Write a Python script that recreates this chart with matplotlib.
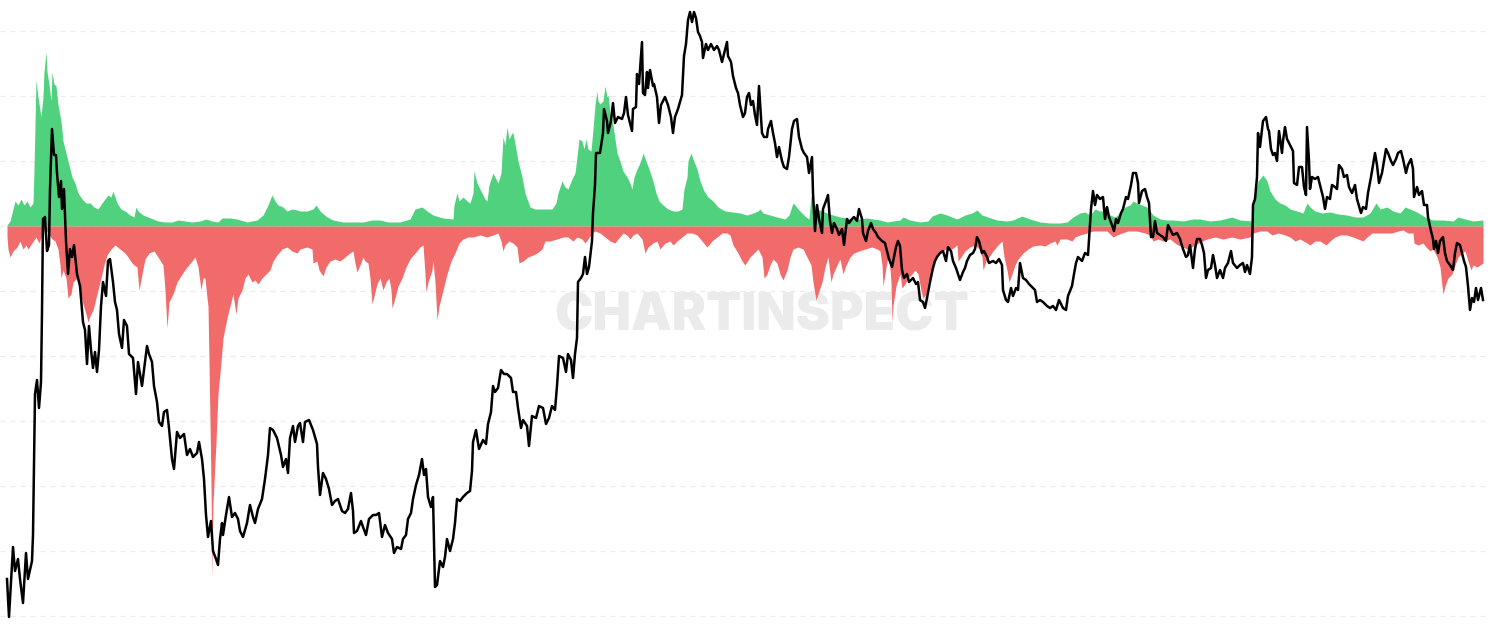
import numpy as np
import matplotlib.pyplot as plt

# inflow (green, above zero) - day index / value
inflow_day = [7, 10, 13, 15, 18, 21, 24, 27, 30, 33, 34, 36, 38, 41, 43, 44, 46, 47, 49, 51,
              52, 54, 56, 58, 61, 63, 66, 69, 72, 75, 78, 82, 86, 90, 94, 98, 102, 105, 108, 111,
              113, 115, 117, 121, 125, 130, 134, 136, 138, 143, 148, 153, 158, 165, 172, 178, 185, 192, 200, 206,
              212, 218, 222, 230, 237, 247, 257, 263, 268, 272, 275, 278, 283, 287, 292, 297, 300, 307, 313, 316,
              320, 327, 333, 343, 353, 363, 372, 380, 388, 400, 410, 415, 422, 427, 433, 443, 453, 454, 457, 459,
              463, 467, 470, 473, 474, 477, 482, 485, 487, 489, 493, 495, 498, 501, 503, 505, 507, 509, 512, 513,
              516, 518, 522, 525, 530, 535, 540, 547, 552, 556, 558, 562, 565, 568, 572, 575, 577, 579, 582, 584,
              586, 588, 591, 593, 595, 597, 598, 600, 603, 605, 607, 608, 610, 613, 615, 617, 620, 623, 627, 630,
              632, 634, 637, 639, 642, 643, 646, 649, 653, 656, 659, 663, 668, 673, 678, 682, 684, 687, 688, 691,
              693, 697, 700, 704, 708, 713, 718, 725, 733, 740, 747, 753, 758, 760, 763, 770, 777, 785, 789, 793,
              795, 798, 802, 806, 809, 811, 813, 817, 822, 827, 833, 840, 847, 853, 860, 867, 873, 880, 887, 893,
              900, 903, 910, 920, 928, 932, 940, 947, 957, 965, 972, 977, 982, 988, 997, 1007, 1013, 1022, 1030, 1040,
              1050, 1060, 1067, 1073, 1080, 1085, 1090, 1095, 1100, 1105, 1110, 1115, 1120, 1125, 1130, 1133, 1137, 1142, 1147, 1150,
              1153, 1160, 1167, 1173, 1183, 1193, 1200, 1210, 1220, 1232, 1240, 1252, 1254, 1258, 1263, 1267, 1270, 1275, 1280, 1285,
              1290, 1297, 1303, 1307, 1310, 1315, 1322, 1330, 1338, 1347, 1355, 1363, 1370, 1376, 1380, 1387, 1393, 1400, 1405, 1410,
              1417, 1425, 1433, 1443, 1453, 1458, 1465, 1473, 1483]
inflow = [1, 5, 17, 25, 21, 27, 21, 25, 19, 23, 57, 146, 129, 109, 129, 154, 174, 154, 142, 125,
          154, 142, 140, 121, 105, 85, 73, 61, 49, 43, 33, 27, 23, 23, 19, 17, 23, 27, 31, 29,
          35, 29, 23, 17, 15, 11, 9, 19, 15, 11, 9, 7, 5, 4, 4, 6, 5, 4, 5, 7,
          5, 4, 8, 8, 7, 4, 6, 11, 21, 31, 25, 21, 19, 15, 17, 16, 15, 15, 17, 21,
          15, 9, 6, 4, 4, 4, 6, 6, 4, 4, 7, 17, 19, 15, 11, 8, 7, 21, 33, 25,
          29, 25, 23, 33, 55, 43, 33, 27, 25, 41, 53, 49, 43, 53, 89, 81, 99, 87, 93, 93,
          77, 65, 49, 33, 19, 17, 17, 17, 17, 23, 33, 45, 39, 37, 47, 53, 69, 87, 85, 77,
          87, 77, 75, 97, 121, 135, 125, 122, 125, 140, 129, 131, 113, 101, 87, 73, 65, 55, 49, 43,
          37, 49, 57, 61, 69, 73, 65, 57, 45, 33, 25, 21, 17, 15, 15, 17, 37, 49, 65, 73,
          67, 57, 45, 35, 29, 25, 19, 15, 14, 13, 11, 13, 15, 17, 13, 11, 9, 7, 11, 23,
          21, 17, 13, 9, 7, 31, 23, 17, 15, 13, 11, 9, 8, 7, 7, 8, 7, 6, 4, 5,
          6, 9, 6, 4, 5, 10, 13, 11, 7, 11, 13, 16, 11, 9, 6, 5, 6, 10, 7, 4,
          3, 3, 4, 9, 13, 14, 11, 17, 15, 15, 11, 9, 13, 19, 21, 25, 23, 21, 19, 15,
          11, 7, 6, 6, 5, 7, 7, 5, 6, 9, 6, 5, 25, 45, 51, 45, 35, 27, 23, 21,
          17, 15, 13, 23, 19, 15, 13, 14, 12, 11, 9, 9, 13, 23, 17, 19, 15, 13, 19, 17,
          14, 9, 6, 6, 5, 9, 7, 5, 6]

# outflow (red, below zero)
outflow_day = [7, 8, 10, 13, 17, 20, 23, 26, 28, 32, 36, 39, 42, 45, 48, 52, 55, 58, 60, 61,
               63, 66, 68, 71, 73, 77, 80, 83, 86, 88, 90, 93, 96, 100, 104, 107, 111, 115, 120, 125,
               128, 132, 134, 137, 139, 142, 145, 149, 154, 158, 163, 165, 167, 169, 173, 177, 182, 187, 192, 195,
               198, 201, 203, 205, 207, 208, 209, 211, 212, 213, 216, 218, 221, 223, 227, 230, 233, 236, 238, 242,
               245, 248, 252, 255, 258, 262, 266, 270, 273, 277, 282, 287, 292, 297, 300, 307, 312, 313, 317, 319,
               323, 326, 330, 335, 340, 345, 350, 353, 355, 357, 360, 363, 365, 368, 370, 372, 374, 377, 380, 383,
               386, 389, 391, 392, 395, 398, 402, 406, 410, 415, 420, 423, 425, 426, 428, 432, 433, 435, 437, 439,
               443, 447, 451, 455, 459, 463, 468, 473, 480, 487, 493, 498, 501, 503, 505, 509, 513, 517, 519, 523,
               528, 533, 537, 542, 545, 550, 557, 563, 568, 573, 577, 582, 585, 588, 592, 595, 600, 605, 610, 615,
               618, 623, 627, 630, 633, 637, 642, 645, 648, 653, 657, 660, 665, 670, 673, 677, 682, 687, 692, 697,
               702, 707, 712, 717, 722, 727, 730, 733, 738, 742, 745, 750, 754, 758, 762, 764, 767, 770, 773, 777,
               780, 783, 787, 790, 793, 798, 803, 807, 811, 813, 816, 818, 822, 825, 828, 831, 833, 837, 840, 843,
               846, 850, 854, 859, 865, 872, 877, 880, 882, 883, 885, 887, 889, 891, 892, 893, 896, 900, 902, 905,
               908, 912, 915, 918, 921, 923, 926, 928, 932, 935, 938, 943, 948, 952, 957, 958, 961, 965, 970, 975,
               979, 982, 983, 986, 989, 993, 998, 1002, 1004, 1007, 1009, 1012, 1015, 1018, 1023, 1028, 1033, 1040, 1045, 1050,
               1055, 1057, 1060, 1067, 1072, 1075, 1080, 1087, 1093, 1100, 1107, 1113, 1117, 1122, 1128, 1137, 1145, 1150, 1153, 1158,
               1163, 1170, 1175, 1178, 1183, 1187, 1191, 1195, 1200, 1207, 1215, 1223, 1232, 1240, 1250, 1253, 1260, 1267, 1272, 1278,
               1285, 1290, 1295, 1300, 1307, 1310, 1315, 1320, 1326, 1330, 1335, 1340, 1347, 1353, 1358, 1363, 1367, 1372, 1378, 1385,
               1392, 1398, 1403, 1408, 1413, 1414, 1418, 1423, 1426, 1430, 1433, 1437, 1440, 1442, 1443, 1445, 1448, 1452, 1455, 1458,
               1462, 1465, 1468, 1471, 1473, 1477, 1480, 1483]
outflow = [-11, -23, -31, -25, -21, -15, -23, -19, -23, -17, -11, -17, -9, -3, -7, -13, -15, -23, -39, -52,
           -44, -52, -72, -68, -56, -52, -64, -78, -88, -96, -90, -84, -72, -56, -39, -29, -23, -19, -23, -27,
           -31, -37, -39, -41, -64, -48, -33, -27, -25, -31, -39, -64, -102, -76, -68, -56, -48, -41, -35, -31,
           -41, -64, -52, -52, -72, -80, -136, -257, -352, -277, -216, -168, -136, -112, -92, -80, -68, -88, -72, -64,
           -52, -48, -56, -54, -58, -52, -48, -44, -35, -29, -23, -21, -25, -27, -23, -21, -23, -37, -35, -44,
           -50, -41, -35, -33, -35, -31, -27, -25, -37, -46, -39, -31, -35, -37, -52, -78, -70, -58, -52, -64,
           -56, -52, -64, -82, -72, -60, -52, -41, -33, -27, -21, -19, -48, -66, -56, -44, -35, -56, -94, -80,
           -64, -48, -35, -27, -17, -13, -11, -11, -9, -11, -9, -7, -15, -25, -19, -15, -17, -21, -37, -35,
           -31, -29, -27, -23, -15, -15, -13, -11, -11, -15, -11, -13, -17, -13, -7, -5, -7, -11, -15, -17,
           -13, -7, -9, -13, -9, -7, -13, -27, -21, -17, -15, -23, -17, -15, -19, -15, -11, -7, -7, -9,
           -15, -21, -15, -11, -7, -7, -9, -19, -27, -35, -39, -31, -27, -23, -31, -52, -48, -39, -33, -37,
           -48, -54, -44, -31, -23, -21, -23, -31, -39, -56, -74, -68, -56, -41, -31, -56, -48, -39, -33, -48,
           -39, -31, -27, -25, -23, -21, -23, -25, -39, -60, -48, -35, -31, -56, -96, -80, -60, -48, -62, -58,
           -52, -48, -44, -48, -64, -72, -68, -56, -44, -35, -29, -25, -21, -23, -19, -35, -31, -25, -21, -19,
           -23, -31, -44, -35, -31, -25, -19, -15, -31, -44, -56, -48, -39, -33, -27, -23, -20, -19, -20, -17,
           -15, -19, -13, -13, -15, -11, -9, -7, -5, -5, -5, -11, -9, -7, -5, -5, -7, -9, -15, -13,
           -15, -13, -17, -19, -21, -23, -21, -19, -16, -13, -11, -13, -11, -13, -11, -7, -5, -5, -9, -7,
           -9, -11, -15, -13, -17, -19, -15, -15, -19, -15, -11, -9, -9, -11, -13, -15, -11, -7, -7, -7,
           -7, -5, -4, -7, -7, -17, -19, -17, -21, -25, -23, -31, -41, -60, -68, -60, -52, -48, -39, -31,
           -27, -25, -35, -44, -39, -41, -39, -37]

# price index
price_day = [7, 9, 13, 15, 18, 20, 23, 26, 28, 32, 33, 35, 37, 39, 41, 42, 43, 45, 47, 49,
             50, 52, 54, 56, 57, 59, 61, 62, 64, 66, 68, 70, 72, 74, 77, 80, 83, 85, 87, 89,
             91, 93, 95, 97, 99, 101, 103, 106, 108, 110, 113, 115, 117, 119, 122, 124, 127, 129, 133, 136,
             138, 142, 144, 147, 149, 152, 154, 157, 159, 162, 164, 167, 169, 172, 174, 177, 180, 184, 187, 190,
             193, 197, 199, 202, 204, 206, 208, 211, 213, 216, 218, 220, 222, 223, 226, 229, 232, 235, 238, 240,
             243, 247, 250, 253, 255, 258, 262, 265, 268, 270, 273, 277, 281, 283, 286, 288, 290, 293, 295, 298,
             300, 303, 305, 309, 313, 317, 318, 320, 323, 326, 329, 332, 335, 338, 342, 345, 348, 351, 353, 354,
             357, 361, 363, 366, 369, 373, 376, 379, 382, 385, 388, 392, 394, 397, 401, 403, 406, 408, 411, 413,
             416, 419, 422, 424, 426, 428, 431, 433, 435, 437, 440, 443, 445, 447, 450, 453, 455, 457, 460, 463,
             467, 470, 472, 473, 476, 479, 483, 486, 488, 491, 493, 495, 498, 501, 504, 507, 511, 513, 516, 518,
             521, 523, 527, 529, 532, 536, 539, 543, 546, 549, 552, 555, 557, 559, 563, 566, 568, 571, 573, 575,
             577, 578, 581, 583, 585, 587, 589, 592, 593, 595, 596, 598, 600, 603, 604, 607, 608, 611, 613, 615,
             618, 622, 624, 626, 628, 632, 633, 636, 637, 639, 642, 643, 645, 647, 648, 650, 653, 654, 657, 659,
             661, 663, 665, 668, 671, 673, 675, 678, 682, 684, 686, 688, 690, 692, 694, 696, 698, 700, 702, 703,
             706, 708, 711, 714, 717, 719, 722, 724, 727, 728, 731, 733, 736, 738, 740, 743, 745, 747, 749, 751,
             753, 755, 757, 759, 762, 764, 767, 768, 771, 773, 775, 777, 779, 782, 784, 787, 789, 792, 794, 797,
             799, 802, 804, 807, 809, 812, 813, 815, 817, 819, 822, 823, 826, 828, 830, 832, 834, 837, 839, 842,
             844, 847, 849, 852, 854, 857, 859, 862, 863, 866, 868, 871, 873, 876, 878, 882, 885, 887, 889, 892,
             894, 896, 898, 900, 902, 904, 907, 909, 913, 916, 918, 920, 923, 925, 927, 930, 933, 935, 937, 940,
             943, 946, 948, 951, 953, 956, 958, 960, 963, 965, 967, 970, 973, 975, 977, 979, 982, 984, 987, 989,
             993, 996, 999, 1002, 1003, 1006, 1008, 1011, 1013, 1016, 1018, 1020, 1023, 1026, 1029, 1033, 1035, 1037, 1040, 1043,
             1047, 1050, 1053, 1056, 1059, 1063, 1066, 1068, 1072, 1074, 1076, 1078, 1082, 1085, 1088, 1091, 1093, 1095, 1097, 1100,
             1103, 1105, 1107, 1109, 1112, 1114, 1116, 1118, 1121, 1123, 1126, 1128, 1131, 1133, 1136, 1138, 1139, 1142, 1145, 1147,
             1149, 1151, 1153, 1155, 1157, 1160, 1163, 1166, 1168, 1171, 1173, 1177, 1180, 1183, 1186, 1188, 1190, 1193, 1195, 1197,
             1200, 1202, 1204, 1206, 1208, 1211, 1213, 1215, 1217, 1220, 1223, 1225, 1228, 1231, 1233, 1237, 1240, 1243, 1245, 1247,
             1250, 1252, 1253, 1255, 1257, 1258, 1260, 1262, 1263, 1266, 1268, 1269, 1271, 1273, 1275, 1277, 1279, 1282, 1283, 1285,
             1287, 1290, 1293, 1294, 1297, 1299, 1302, 1304, 1306, 1307, 1309, 1310, 1312, 1315, 1318, 1321, 1323, 1325, 1327, 1330,
             1332, 1335, 1337, 1339, 1342, 1344, 1347, 1349, 1352, 1355, 1357, 1361, 1363, 1366, 1368, 1371, 1373, 1375, 1377, 1379,
             1382, 1384, 1386, 1388, 1391, 1393, 1396, 1398, 1401, 1403, 1406, 1408, 1411, 1413, 1414, 1417, 1419, 1422, 1424, 1427,
             1428, 1431, 1433, 1434, 1436, 1438, 1440, 1443, 1445, 1447, 1450, 1453, 1455, 1457, 1460, 1462, 1464, 1466, 1468, 1470,
             1472, 1474, 1476, 1478, 1481, 1483]
price = [54, 16, 86, 62, 74, 54, 30, 80, 54, 72, 98, 239, 253, 225, 251, 321, 414, 416, 382, 388,
         444, 504, 478, 478, 460, 436, 452, 424, 444, 392, 359, 384, 376, 388, 359, 347, 311, 303, 269, 307,
         283, 265, 281, 261, 283, 327, 351, 337, 372, 374, 351, 331, 323, 299, 285, 313, 307, 279, 275, 239,
         271, 247, 263, 287, 279, 271, 247, 231, 211, 207, 221, 223, 205, 174, 164, 201, 195, 199, 178, 184,
         176, 180, 191, 174, 154, 118, 96, 112, 82, 74, 68, 94, 110, 98, 118, 136, 116, 120, 114, 102,
         96, 110, 128, 116, 110, 124, 134, 154, 178, 205, 203, 195, 178, 166, 174, 160, 195, 207, 191, 207,
         210, 191, 211, 213, 203, 189, 166, 138, 160, 154, 144, 128, 132, 134, 122, 120, 124, 140, 122, 100,
         102, 112, 106, 98, 114, 118, 118, 120, 96, 108, 100, 94, 80, 86, 84, 94, 98, 114, 120, 134,
         148, 158, 174, 158, 164, 136, 126, 136, 46, 48, 72, 66, 76, 94, 82, 94, 110, 134, 132, 136,
         140, 142, 162, 191, 203, 184, 193, 189, 209, 221, 247, 241, 245, 263, 259, 259, 255, 241, 241, 225,
         205, 213, 207, 187, 217, 215, 227, 225, 209, 215, 227, 223, 247, 277, 275, 261, 279, 273, 255, 279,
         295, 351, 355, 359, 376, 359, 366, 392, 420, 448, 480, 480, 480, 500, 524, 512, 500, 512, 530, 510,
         516, 514, 520, 536, 518, 502, 524, 526, 559, 549, 591, 540, 538, 561, 545, 563, 547, 549, 536, 510,
         528, 532, 536, 528, 516, 500, 516, 524, 538, 577, 589, 613, 621, 611, 621, 615, 601, 597, 591, 575,
         589, 583, 589, 583, 587, 583, 571, 579, 591, 577, 571, 557, 545, 540, 528, 516, 520, 536, 540, 528,
         532, 518, 508, 547, 500, 496, 496, 504, 512, 500, 490, 476, 486, 472, 466, 464, 476, 504, 512, 514,
         496, 484, 480, 476, 460, 476, 440, 402, 428, 414, 400, 424, 432, 438, 412, 400, 410, 404, 398, 404,
         388, 414, 410, 414, 416, 412, 424, 414, 400, 392, 402, 410, 404, 400, 396, 392, 390, 382, 374, 366,
         376, 386, 392, 387, 363, 355, 359, 351, 355, 349, 351, 333, 331, 325, 335, 351, 365, 372, 376, 380,
         382, 372, 386, 382, 372, 365, 359, 353, 361, 365, 372, 378, 380, 384, 396, 392, 380, 382, 376, 370,
         372, 370, 374, 368, 343, 333, 331, 345, 337, 345, 343, 370, 355, 353, 349, 345, 343, 331, 333, 331,
         327, 325, 327, 323, 333, 325, 323, 337, 347, 359, 370, 376, 372, 380, 378, 424, 442, 428, 438, 434,
         436, 414, 426, 416, 408, 402, 414, 410, 420, 424, 436, 434, 448, 460, 460, 450, 430, 442, 444, 436,
         430, 396, 396, 412, 400, 398, 396, 392, 408, 402, 398, 400, 394, 384, 376, 378, 388, 365, 384, 394,
         394, 388, 380, 355, 363, 365, 378, 368, 355, 363, 355, 365, 370, 382, 370, 365, 368, 370, 361, 368,
         359, 376, 428, 434, 456, 500, 486, 504, 512, 516, 504, 502, 484, 478, 480, 472, 502, 480, 492, 506,
         494, 488, 482, 450, 448, 466, 466, 446, 438, 506, 472, 444, 456, 454, 456, 444, 436, 424, 436, 434,
         448, 446, 444, 468, 464, 456, 458, 446, 440, 448, 434, 420, 426, 424, 440, 456, 468, 480, 468, 450,
         460, 472, 484, 480, 472, 468, 474, 480, 482, 474, 460, 468, 474, 464, 436, 446, 438, 442, 428, 428,
         416, 402, 394, 384, 392, 380, 392, 396, 380, 372, 368, 363, 380, 390, 388, 380, 372, 366, 347, 323,
         335, 331, 345, 333, 345, 333]

fig = plt.figure(figsize=(14.9, 6.33), dpi=100)
ax = fig.add_axes([0, 0, 1, 1])
ax.set_xlim(0, 1490)
ax.set_ylim(-407, 226)

ax.fill_between(inflow_day, 0, inflow, color='#4fd17e', linewidth=0, zorder=2)
ax.fill_between(outflow_day, outflow, 0, color='#f16b6b', linewidth=0, zorder=2)

ax.set_yticks(np.arange(-390, 226, 65))
ax.grid(axis='y', color='#ebebeb', linestyle=(0, (4, 4)), linewidth=0.9, zorder=0)
ax.set_axisbelow(True)
ax.tick_params(length=0, labelleft=False, labelbottom=False)
for s in ax.spines.values():
    s.set_visible(False)

# watermark
ax.text(762, -91, 'CHARTINSPECT', fontsize=37, fontweight='black', family='Inter',
        color='#ebebeb', ha='center', va='center', zorder=1)

ax2 = ax.twinx()
ax2.set_ylim(0, 633)
ax2.plot(price_day, price, color='black', linewidth=1.8, zorder=3)
ax2.axis('off')

fig.savefig('out.png', dpi=100)
